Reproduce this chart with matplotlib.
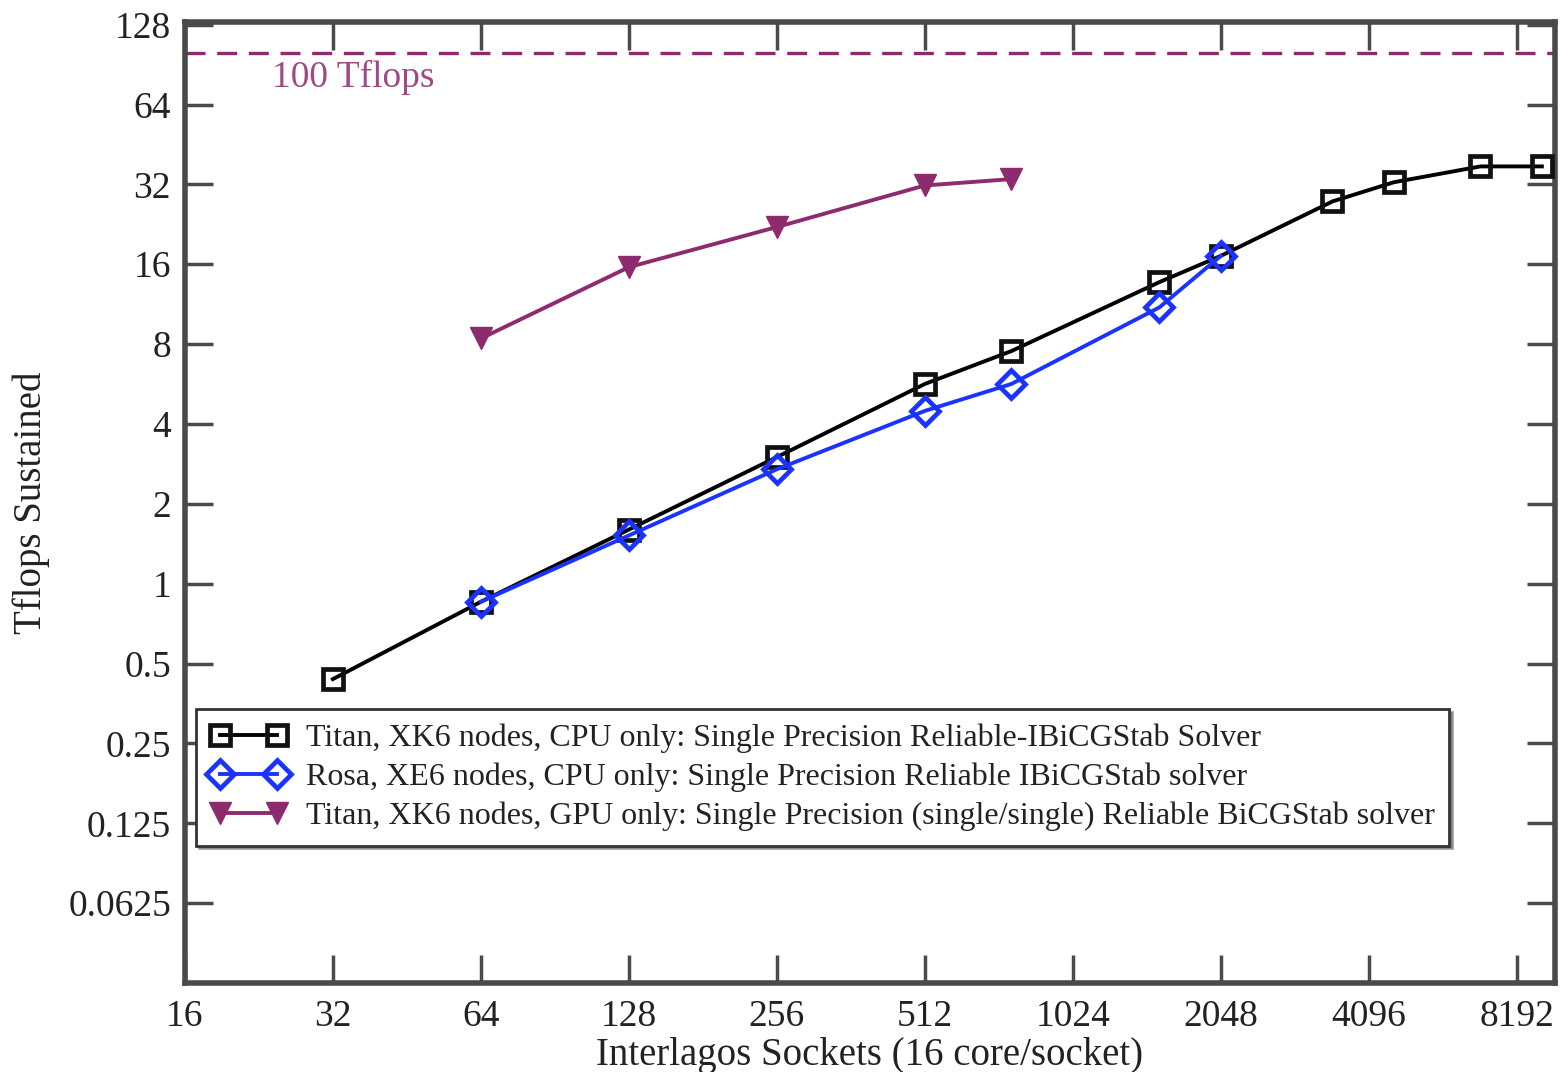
import matplotlib
matplotlib.use("Agg")
import matplotlib.pyplot as plt
from matplotlib.ticker import FixedLocator, FixedFormatter, NullLocator

# ---- data ----
titan_cpu_x = [32, 64, 128, 256, 512, 768, 1536, 2048, 3456, 4608, 6912, 9216]
titan_cpu_y = [0.437, 0.855, 1.6, 3.0, 5.66, 7.53, 13.7, 17.2, 27.6, 32.6, 37.4, 37.4]

rosa_cpu_x = [64, 128, 256, 512, 768, 1536, 2048]
rosa_cpu_y = [0.855, 1.52, 2.7, 4.48, 5.66, 11.0, 17.2]

titan_gpu_x = [64, 128, 256, 512, 768]
titan_gpu_y = [8.4, 15.6, 22.1, 31.7, 33.5]

peak_value = 100
peak_label = "100 Tflops"

x_ticks = [16, 32, 64, 128, 256, 512, 1024, 2048, 4096, 8192]
x_tick_labels = ["16", "32", "64", "128", "256", "512", "1024", "2048", "4096", "8192"]
y_ticks = [0.0625, 0.125, 0.25, 0.5, 1, 2, 4, 8, 16, 32, 64, 128]
y_tick_labels = ["0.0625", "0.125", "0.25", "0.5", "1", "2", "4", "8", "16", "32", "64", "128"]

labels = [
    "Titan, XK6 nodes, CPU only: Single Precision Reliable-IBiCGStab Solver",
    "Rosa, XE6 nodes, CPU only: Single Precision Reliable IBiCGStab solver",
    "Titan, XK6 nodes, GPU only: Single Precision (single/single) Reliable BiCGStab solver",
]

plt.rcParams['font.family'] = ['Liberation Serif', 'DejaVu Serif']

purple = '#8e2a6e'
blue = '#1a33ff'
spine_col = '#4a4a4a'
text_col = '#222222'

fig = plt.figure(figsize=(15.62, 10.72), dpi=100)
ax = fig.add_axes([0.1184, 0.083, 0.8771, 0.8965])

ax.set_xscale('log', base=2)
ax.set_yscale('log', base=2)
ax.set_xlim(16, 9800)
ax.set_ylim(0.03125, 131)

ax.axhline(peak_value, color=purple, lw=2.4, ls=(0, (6, 3.5)), zorder=1)
ax.text(24, 81, peak_label, color=purple, fontsize=27, va='center', ha='left', alpha=0.85)

ax.plot(titan_cpu_x, titan_cpu_y, color='black', lw=2.8, marker='s', ms=15,
        mfc='none', mec='#111111', mew=3.4, label=labels[0], zorder=3)
ax.plot(rosa_cpu_x, rosa_cpu_y, color=blue, lw=2.8, marker='D', ms=14,
        mfc='none', mec=blue, mew=3.4, label=labels[1], zorder=4)
ax.plot(titan_gpu_x, titan_gpu_y, color=purple, lw=2.8, marker='v', ms=16,
        mfc=purple, mec=purple, mew=1, label=labels[2], zorder=3)

ax.xaxis.set_major_locator(FixedLocator(x_ticks))
ax.xaxis.set_major_formatter(FixedFormatter(x_tick_labels))
ax.yaxis.set_major_locator(FixedLocator(y_ticks))
ax.yaxis.set_major_formatter(FixedFormatter(y_tick_labels))
ax.xaxis.set_minor_locator(NullLocator())
ax.yaxis.set_minor_locator(NullLocator())

ax.tick_params(which='major', direction='in', length=20, width=2.5, color=spine_col,
               top=True, right=True, labelsize=27, labelcolor=text_col)
ax.tick_params(axis='x', pad=12)
ax.tick_params(axis='y', pad=10)
for s in ax.spines.values():
    s.set_linewidth(4)
    s.set_color(spine_col)

ax.set_xlabel("Interlagos Sockets (16 core/socket)", fontsize=28, labelpad=2, color=text_col)
ax.set_ylabel("Tflops Sustained", fontsize=28, color=text_col, va='center')
ax.yaxis.set_label_coords(-0.112, 0.5)

leg = ax.legend(loc='upper left', bbox_to_anchor=(0.008, 0.285), fontsize=23,
                frameon=True, fancybox=False, shadow=True, numpoints=2,
                handlelength=2.4, borderpad=0.45, labelspacing=0.3, borderaxespad=0,
                handletextpad=0.6)
leg.get_frame().set_edgecolor('#333333')
leg.get_frame().set_linewidth(2)
for t in leg.get_texts():
    t.set_color(text_col)

fig.savefig("out.png", dpi=100)
